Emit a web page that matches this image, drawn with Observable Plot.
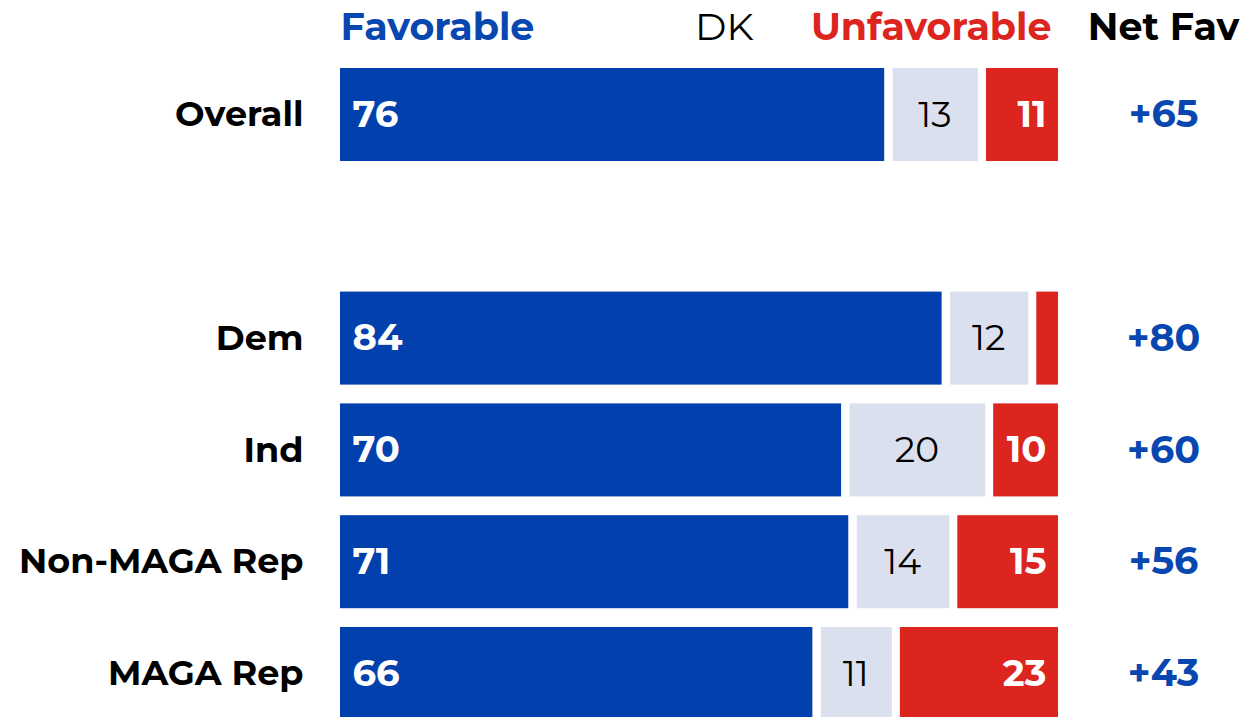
<!DOCTYPE html>
<html><head><meta charset="utf-8">
<script src="https://cdn.jsdelivr.net/npm/d3@7"></script>
<script src="https://cdn.jsdelivr.net/npm/@observablehq/plot@0.6"></script>
<style>
body{margin:0;background:#fff;}
#chart svg{display:block;}
</style></head><body><div id="chart"></div>
<script>
const groups = ["Overall", "Dem", "Ind", "Non-MAGA Rep", "MAGA Rep"];
const favorable = [76, 84, 70, 71, 66];
const dk = [13, 12, 20, 14, 11];
const unfavorable = [11, 4, 10, 15, 23];
const netFav = [65, 80, 60, 56, 43];
const kinds = ["Favorable", "DK", "Unfavorable"];
const colors = ["#0241ad", "#dbe0ee", "#dc251f"];
const SPACER = "spacer";

const rows = groups.map((g, i) => ({group: g, fav: favorable[i], dk: dk[i], unf: unfavorable[i], net: netFav[i]}));
const segs = rows.flatMap(r => [
  {group: r.group, kind: "Favorable", value: r.fav, x1: 0, x2: r.fav},
  {group: r.group, kind: "DK", value: r.dk, x1: r.fav, x2: r.fav + r.dk},
  {group: r.group, kind: "Unfavorable", value: r.unf, x1: r.fav + r.dk, x2: r.fav + r.dk + r.unf}
]);
const fav = segs.filter(d => d.kind === "Favorable");
const dks = segs.filter(d => d.kind === "DK");
const unf = segs.filter(d => d.kind === "Unfavorable");
const yDomain = [groups[0], SPACER, ...groups.slice(1)];
const font = "Montserrat, Inter, sans-serif";

const chart = Plot.plot({
  width: 1244,
  height: 717,
  marginTop: 68,
  marginBottom: -3,
  marginLeft: 340,
  marginRight: 186,
  style: {fontFamily: font, background: "#fff"},
  x: {domain: [0, 100], axis: null},
  y: {domain: yDomain, paddingInner: 0.168, paddingOuter: 0, round: false, label: null},
  color: {domain: kinds, range: colors},
  marks: [
    Plot.axisY({tickSize: 0, tickPadding: 37, fontSize: 35, fontWeight: 700, fill: "#000", label: null,
      tickFormat: d => d === SPACER ? "" : d}),
    Plot.barX(fav, {x1: "x1", x2: "x2", y: "group", fill: "kind", insetRight: 1.5}),
    Plot.barX(dks, {x1: "x1", x2: "x2", y: "group", fill: "kind", insetLeft: 7, insetRight: 1}),
    Plot.barX(unf, {x1: "x1", x2: "x2", y: "group", fill: "kind", insetLeft: 7}),
    Plot.text(fav, {x: "x1", y: "group", text: d => String(d.value), dx: 12, textAnchor: "start",
      fill: "#fff", fontWeight: 700, fontSize: 37}),
    Plot.text(dks, {x: d => (d.x1 + d.x2) / 2, y: "group", text: d => String(d.value), dx: 2,
      fill: "#000", fontWeight: 400, fontSize: 36}),
    Plot.text(unf.filter(d => d.value >= 5), {x: "x2", y: "group", text: d => String(d.value), dx: -12,
      textAnchor: "end", fill: "#fff", fontWeight: 700, fontSize: 37}),
    Plot.text(rows, {x: () => 100, y: "group", text: d => "+" + d.net, dx: 105,
      fill: "#0846b0", fontWeight: 700, fontSize: 38}),
    Plot.text([kinds[0]], {x: () => 0, frameAnchor: "top", lineAnchor: "middle", dy: -41, text: d => d, textAnchor: "start",
      fill: "#0846b0", fontWeight: 700, fontSize: 38}),
    Plot.text([kinds[1]], {x: () => 100, frameAnchor: "top", lineAnchor: "middle", dy: -41, text: d => d, textAnchor: "end", dx: -305,
      fill: "#000", fontWeight: 400, fontSize: 38}),
    Plot.text([kinds[2]], {x: () => 100, frameAnchor: "top", lineAnchor: "middle", dy: -41, text: d => d, textAnchor: "end", dx: -7,
      fill: "#dc251f", fontWeight: 700, fontSize: 38}),
    Plot.text(["Net Fav"], {x: () => 100, frameAnchor: "top", lineAnchor: "middle", dy: -41, text: d => d, dx: 105,
      fill: "#000", fontWeight: 700, fontSize: 38})
  ]
});
document.getElementById("chart").append(chart);
</script></body></html>
